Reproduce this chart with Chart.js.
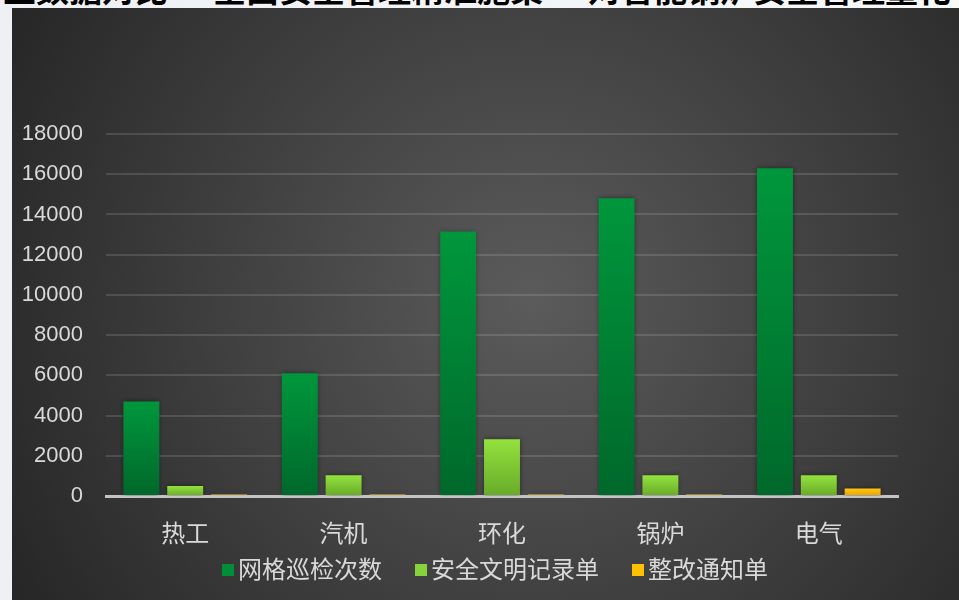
<!DOCTYPE html>
<html>
<head>
<meta charset="utf-8">
<script src="https://cdn.jsdelivr.net/npm/chart.js@4.4.1/dist/chart.umd.min.js"></script>
<style>
  html, body { margin: 0; padding: 0; }
  body {
    width: 959px; height: 600px; overflow: hidden; position: relative;
    background: linear-gradient(90deg, #eef0f3, #f7f8fa);
  }
  #heading {
    position: absolute; left: -30px; top: -36px;
    font: bold 33px "Noto Sans CJK SC", sans-serif; color: #000;
    white-space: nowrap;
  }
  #panel { position: absolute; left: 12px; top: 8px; width: 947px; height: 592px; }
</style>
</head>
<body>
<div id="heading">专业数据对比 — 全面安全管理精准施策 — 对智能锅炉安全管理量化考核</div>
<div id="panel"><canvas id="chart" width="947" height="592"></canvas></div>
<script>
const categories = ["热工", "汽机", "环化", "锅炉", "电气"];
const seriesNames = ["网格巡检次数", "安全文明记录单", "整改通知单"];
const inspections = [4700, 6100, 13150, 14800, 16300];
const safetyRecords = [500, 1030, 2820, 1030, 1030];
const rectifyNotices = [70, 70, 70, 70, 370];
const yTicks = [0, 2000, 4000, 6000, 8000, 10000, 12000, 14000, 16000, 18000];

const topColors = ["#00973c", "#93e23e", "#ffc610"];
const bottomColors = ["#00682b", "#68aa28", "#e6a400"];
const legendColors = ["#008f38", "#86d23a", "#ffc000"];

const FONT = '"Liberation Sans", "Noto Sans CJK SC", sans-serif';

function barGradient(i) {
  return (ctx) => {
    const chart = ctx.chart;
    const area = chart.chartArea;
    if (!area || ctx.raw === undefined) return topColors[i];
    const y = chart.scales.y;
    const top = y.getPixelForValue(ctx.raw);
    const base = y.getPixelForValue(0);
    if (!(base - top > 3)) return topColors[i];
    const g = chart.ctx.createLinearGradient(0, top, 0, base);
    g.addColorStop(0, topColors[i]);
    g.addColorStop(1, bottomColors[i]);
    return g;
  };
}

const panelBackground = {
  id: "panelBackground",
  beforeDraw(chart) {
    const { ctx, width, height } = chart;
    const g = ctx.createRadialGradient(520, 292, 0, 520, 292, 600);
    g.addColorStop(0, "#5b5b5b");
    g.addColorStop(1, "#262626");
    ctx.save();
    ctx.fillStyle = g;
    ctx.fillRect(0, 0, width, height);
    ctx.restore();
  }
};

const barShadow = {
  id: "barShadow",
  beforeDatasetsDraw(chart) {
    const ctx = chart.ctx;
    ctx.save();
    ctx.shadowColor = "rgba(0,0,0,0.45)";
    ctx.shadowBlur = 5;
  },
  afterDatasetsDraw(chart) {
    chart.ctx.restore();
  }
};

const bottomLegend = {
  id: "bottomLegend",
  afterDraw(chart) {
    const ctx = chart.ctx;
    ctx.save();
    ctx.font = "24px " + FONT;
    ctx.textBaseline = "middle";
    let x = 210;
    const yMid = 563;
    seriesNames.forEach((name, i) => {
      ctx.fillStyle = legendColors[i];
      ctx.fillRect(x, yMid - 7, 12, 12);
      ctx.fillStyle = "#d9d9d9";
      ctx.fillText(name, x + 16, yMid);
      x += 16 + ctx.measureText(name).width + 33;
    });
    ctx.restore();
  }
};

new Chart(document.getElementById("chart"), {
  type: "bar",
  data: {
    labels: categories,
    datasets: [
      { label: seriesNames[0], data: inspections, backgroundColor: barGradient(0) },
      { label: seriesNames[1], data: safetyRecords, backgroundColor: barGradient(1) },
      { label: seriesNames[2], data: rectifyNotices, backgroundColor: barGradient(2) }
    ]
  },
  options: {
    responsive: false,
    animation: false,
    events: [],
    categoryPercentage: 0.83,
    barPercentage: 0.82,
    layout: { padding: { top: 126, right: 61, left: 0, bottom: 0 } },
    plugins: {
      legend: { display: false },
      tooltip: { enabled: false }
    },
    scales: {
      x: {
        afterFit: (s) => { s.height = 104; },
        grid: { display: false, drawTicks: false },
        border: { display: true, color: "#c4c4c4", width: 3 },
        ticks: { color: "#d9d9d9", padding: 25, font: { size: 24, family: FONT } }
      },
      y: {
        min: 0,
        max: 18000,
        afterFit: (s) => { s.width = 94; },
        afterBuildTicks: (s) => { s.ticks = yTicks.map((v) => ({ value: v })); },
        grid: { color: "rgba(255,255,255,0.13)", lineWidth: 2, drawTicks: false },
        border: { display: false },
        ticks: {
          color: "#d9d9d9",
          padding: 23,
          font: { size: 22, family: FONT },
          callback: (v) => String(v)
        }
      }
    }
  },
  plugins: [panelBackground, barShadow, bottomLegend]
});
</script>
</body>
</html>
